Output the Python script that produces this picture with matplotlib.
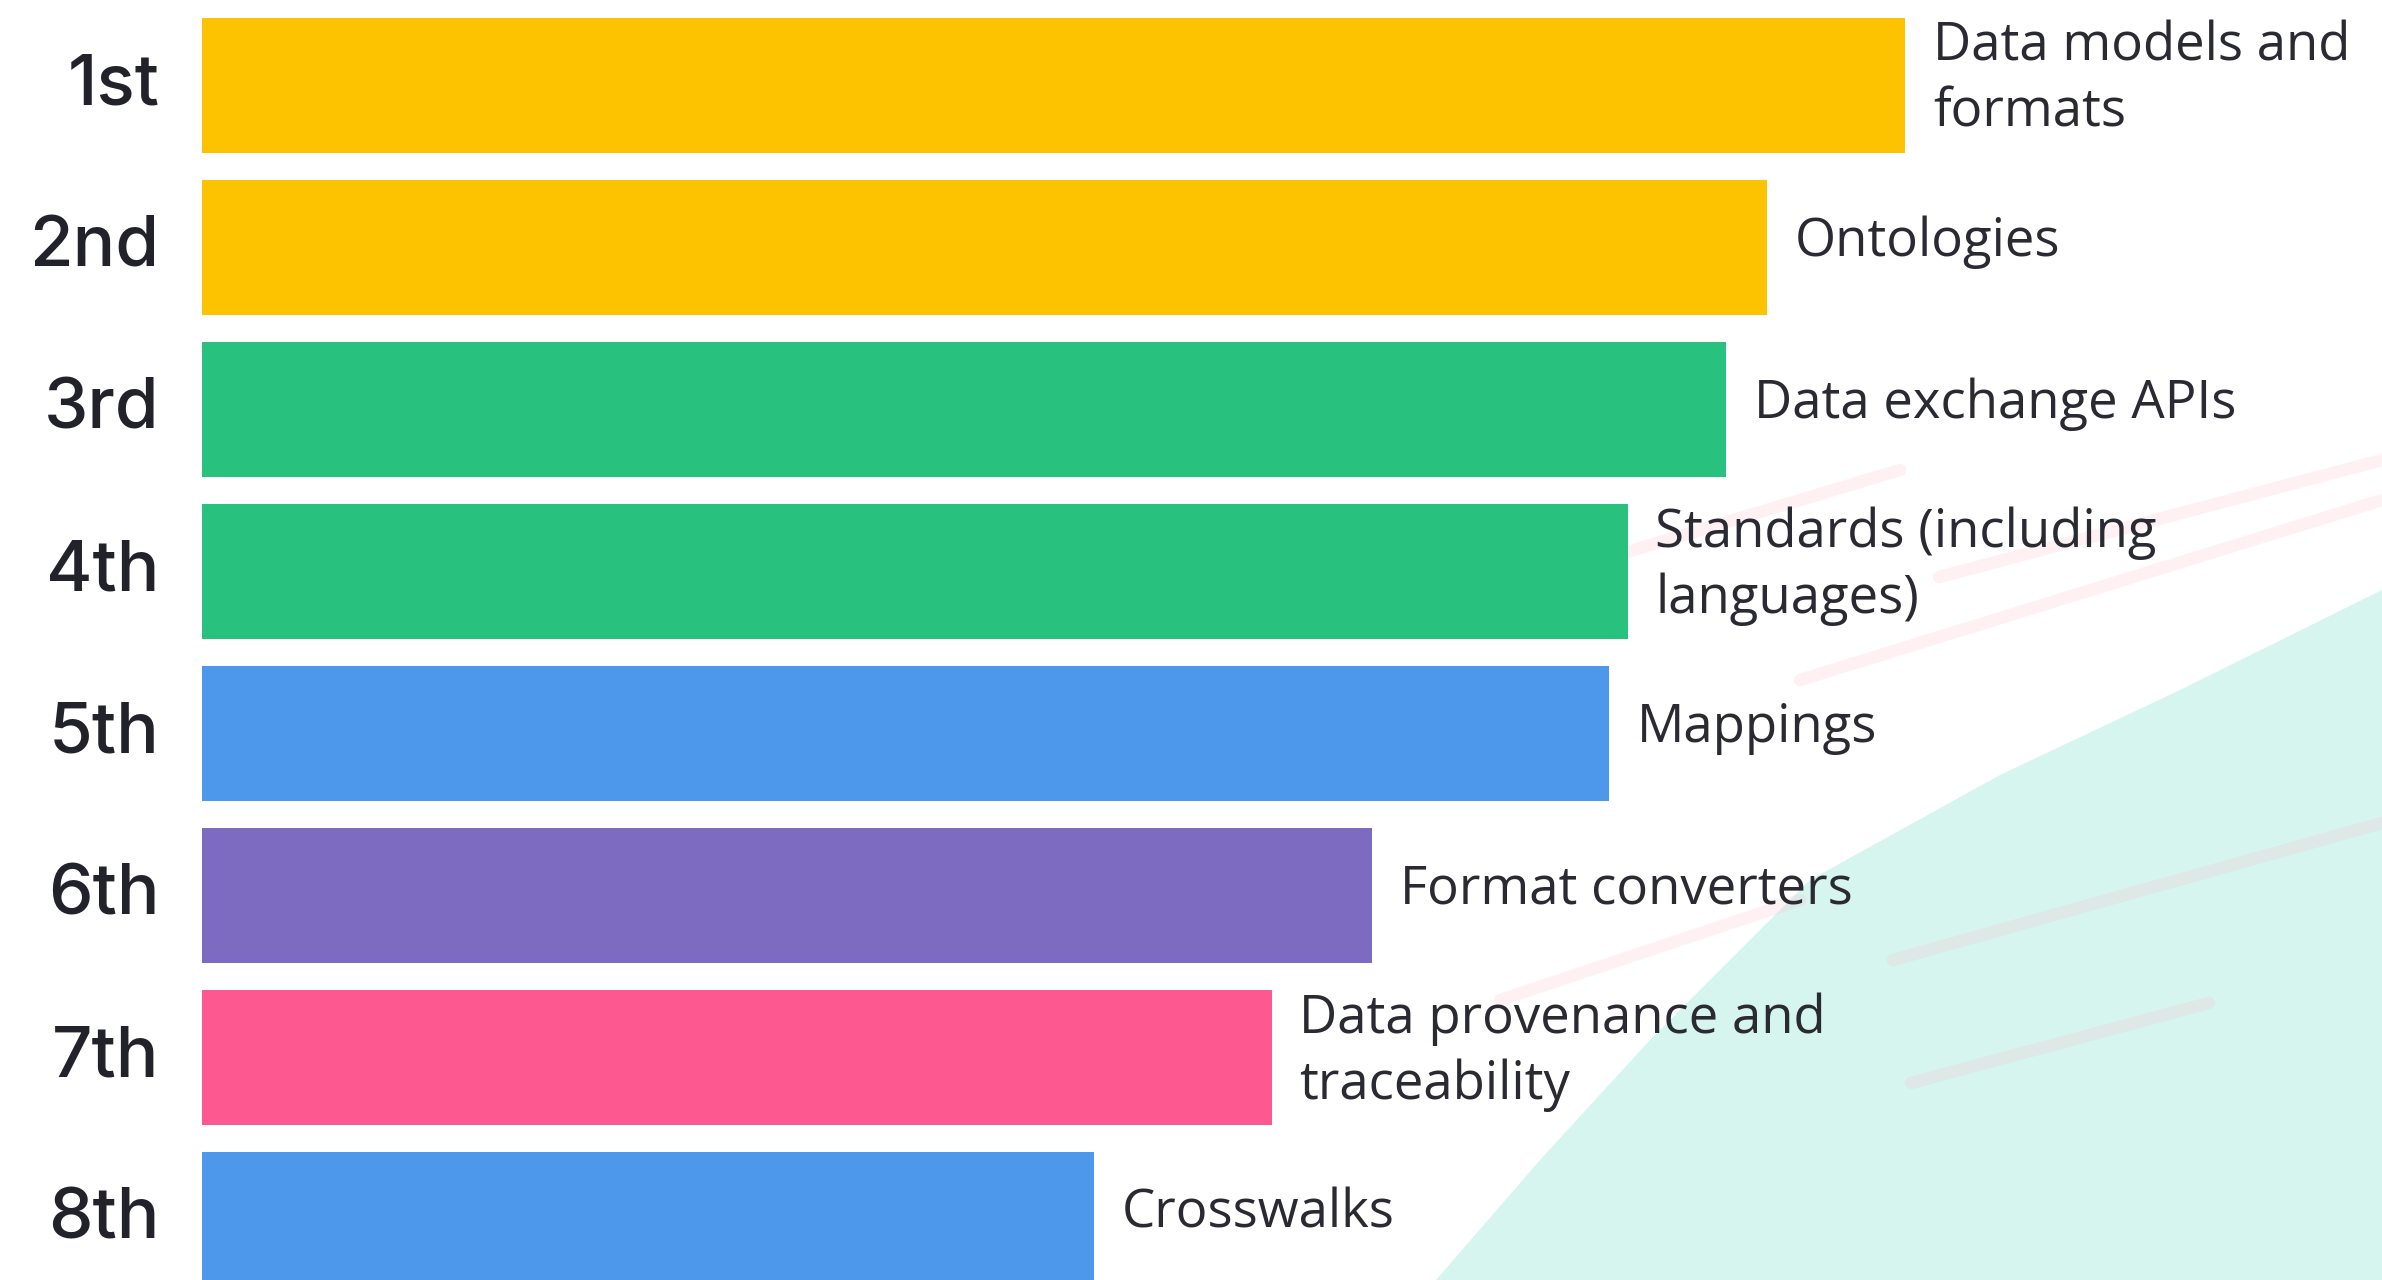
import matplotlib.pyplot as plt
from matplotlib.patches import Polygon

# ranking de componentes de interoperabilidad
ranks = ['1st', '2nd', '3rd', '4th', '5th', '6th', '7th', '8th']
labels = ['Data models and\nformats', 'Ontologies', 'Data exchange APIs',
          'Standards (including\nlanguages)', 'Mappings', 'Format converters',
          'Data provenance and\ntraceability', 'Crosswalks']
scores = [100, 91.9, 89.5, 83.7, 82.6, 68.7, 62.8, 52.4]
colors = ['#FDC300', '#FDC300', '#29C17E', '#29C17E', '#4E98EC',
          '#7D6BC1', '#FE5890', '#4E98EC']

W, H = 2382, 1280
fig = plt.figure(figsize=(W / 100, H / 100), dpi=100)
fig.patch.set_facecolor('white')

""" FONDO """
bg = fig.add_axes([0, 0, 1, 1], zorder=0)
bg.set_xlim(0, W)
bg.set_ylim(H, 0)
bg.axis('off')
mint = [(1436, 1280), (1540, 1160), (1650, 1040), (1810, 880), (2000, 775),
        (2180, 690), (2382, 590), (2382, 1280)]
bg.add_patch(Polygon(mint, closed=True, facecolor='#D6F5EF', edgecolor='none'))
streaks = [((1939, 577), (2382, 460)), ((1800, 680), (2382, 500)),
           ((1893, 960), (2382, 823)), ((1911, 1083), (2209, 1003)),
           ((1600, 560), (1900, 470)), ((1500, 1000), (1800, 900))]
for (x0, y0), (x1, y1) in streaks:
    bg.plot([x0, x1], [y0, y1], color='#FFB8C6', lw=9, alpha=0.2,
            solid_capstyle='round')

""" BARRAS """
ax = fig.add_axes([0, 0, 1, 1], zorder=1)
ax.patch.set_alpha(0)
y = list(range(len(ranks)))
ax.barh(y, scores, height=0.835, color=colors)
ax.set_xlim(-11.86, 128.0)
ax.set_ylim(7.373, -0.528)
ax.axis('off')

for i in y:
    ax.text(-2.5, i, ranks[i], ha='right', va='center', fontsize=51,
            fontfamily='Inter', fontweight='medium', color='#22222A')
    ax.annotate(labels[i], (scores[i], i), xytext=(20, 4),
                textcoords='offset points', ha='left', va='center',
                fontsize=38, fontfamily='Open Sans', color='#2A2A33',
                linespacing=1.32)

fig.savefig('out.png', dpi=100)
